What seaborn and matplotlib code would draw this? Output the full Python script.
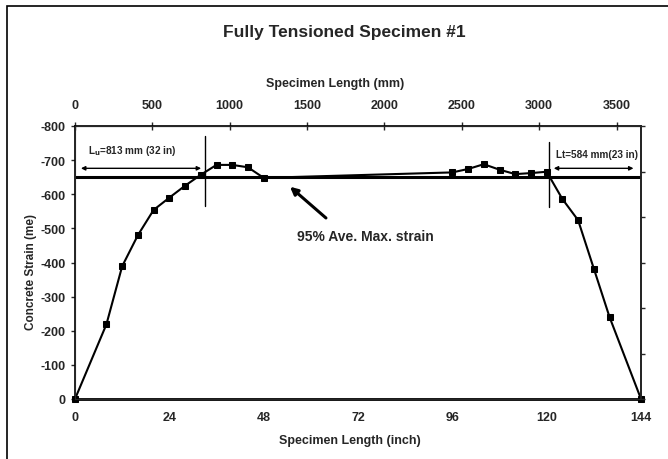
import numpy as np
import pandas as pd
import seaborn as sns
import matplotlib.pyplot as plt
from matplotlib.patches import Rectangle
from matplotlib.ticker import MultipleLocator

# measured strain along the specimen
length_in = [0, 8, 12, 16, 20, 24, 28, 32, 36, 40, 44, 48,
             96, 100, 104, 108, 112, 116, 120, 124, 128, 132, 136, 144]
strain = [0, -219, -389, -480, -554, -590, -625, -657, -686, -686, -679, -648,
          -664, -674, -688, -672, -659, -662, -666, -586, -524, -382, -240, 0]

ave_max = -652          # 95% average max strain
lu_end = 33             # end of left transfer length (inch)
lt_start = 120.7        # start of right transfer length (inch)

mm_ticks = [0, 500, 1000, 1500, 2000, 2500, 3000, 3500]
in_ticks = [0, 24, 48, 72, 96, 120, 144]
strain_ticks = [0, -100, -200, -300, -400, -500, -600, -700, -800]

df = pd.DataFrame({'inch': length_in, 'strain': strain})

sns.set_style('white')
plt.rcParams['font.family'] = ['Liberation Sans', 'DejaVu Sans']
plt.rcParams['font.weight'] = 'bold'
plt.rcParams['axes.unicode_minus'] = False

fig = plt.figure(figsize=(6.68, 4.60), dpi=100)
ax = fig.add_axes([75/668, 1-400/460, 566/668, 273/460])

sns.lineplot(data=df, x='inch', y='strain', ax=ax, color='black', lw=1.5,
             marker='s', markersize=5, markeredgecolor='black',
             sort=False, estimator=None, clip_on=False)

ax.axhline(ave_max, color='black', lw=2.2)
ax.plot([lu_end, lu_end], [-771, -566], color='black', lw=1)
ax.plot([lt_start, lt_start], [-754, -564], color='black', lw=1)

ax.annotate('', xy=(0.8, -676), xytext=(32.8, -676),
            arrowprops=dict(arrowstyle='<|-|>', color='black', lw=1, mutation_scale=6))
ax.annotate('', xy=(121.1, -676), xytext=(142.8, -676),
            arrowprops=dict(arrowstyle='<|-|>', color='black', lw=1, mutation_scale=6))
ax.text(3.3, -730, 'L$_\\mathbf{u}$=813 mm (32 in)', fontsize=7.2, fontweight='bold', va='center')
ax.text(122.5, -718, 'Lt=584 mm(23 in)', fontsize=7.2, fontweight='bold', va='center')

ax.annotate('95% Ave. Max. strain', xy=(54.7, -622), xytext=(73.9, -479),
            ha='center', va='center', fontsize=10, fontweight='bold',
            arrowprops=dict(arrowstyle='-|>', color='black', lw=2.2, mutation_scale=11,
                            shrinkA=8, shrinkB=0, relpos=(0.3, 1.0)))

ax.set_xlim(0, 144)
ax.set_ylim(0, -800)
ax.set_xticks(in_ticks)
ax.xaxis.set_minor_locator(MultipleLocator(8))
ax.set_yticks(strain_ticks)
ax.tick_params(axis='x', which='both', direction='in', length=4, width=1, labelsize=9, pad=9)
ax.tick_params(axis='x', which='minor', length=2.5)
ax.tick_params(axis='y', direction='out', length=3, width=1, labelsize=9, pad=4)
ax.set_xlabel('Specimen Length (inch)', fontsize=9, fontweight='bold')
ax.xaxis.set_label_coords((350-75)/566, -35/273)
ax.set_ylabel('Concrete Strain (me)', fontsize=8.5, fontweight='bold')
ax.yaxis.set_label_coords((37-75)/566, (400-272)/273)
for s in ax.spines.values():
    s.set_color('black')
    s.set_linewidth(1.2)
ax.spines['bottom'].set_linewidth(2)

# top axis in mm
top = ax.secondary_xaxis('top', functions=(lambda x: x * 25.4, lambda x: x / 25.4))
top.set_xticks(mm_ticks)
top.tick_params(direction='inout', length=6, width=1, labelsize=9, pad=7.5)
top.set_xlabel('Specimen Length (mm)', fontsize=9, fontweight='bold', labelpad=10)
top.xaxis.label.set_x((335-75)/566)

# right axis, ticks only
right = ax.twinx()
right.set_ylim(0, 6)
right.set_yticks(range(7))
right.set_yticklabels([])
right.tick_params(direction='out', length=3, width=1)
right.spines['right'].set_linewidth(1.2)
right.grid(False)

fig.text(344/668, 1-32/460, 'Fully Tensioned Specimen #1', ha='center', va='center',
         fontsize=12.5, fontweight='bold')

fig.patches.append(Rectangle((7/668, -0.1), 1.2, 1.1 - 7/460, transform=fig.transFigure,
                             fill=False, edgecolor='black', lw=1.2))

fig.savefig('out.png', dpi=100)
